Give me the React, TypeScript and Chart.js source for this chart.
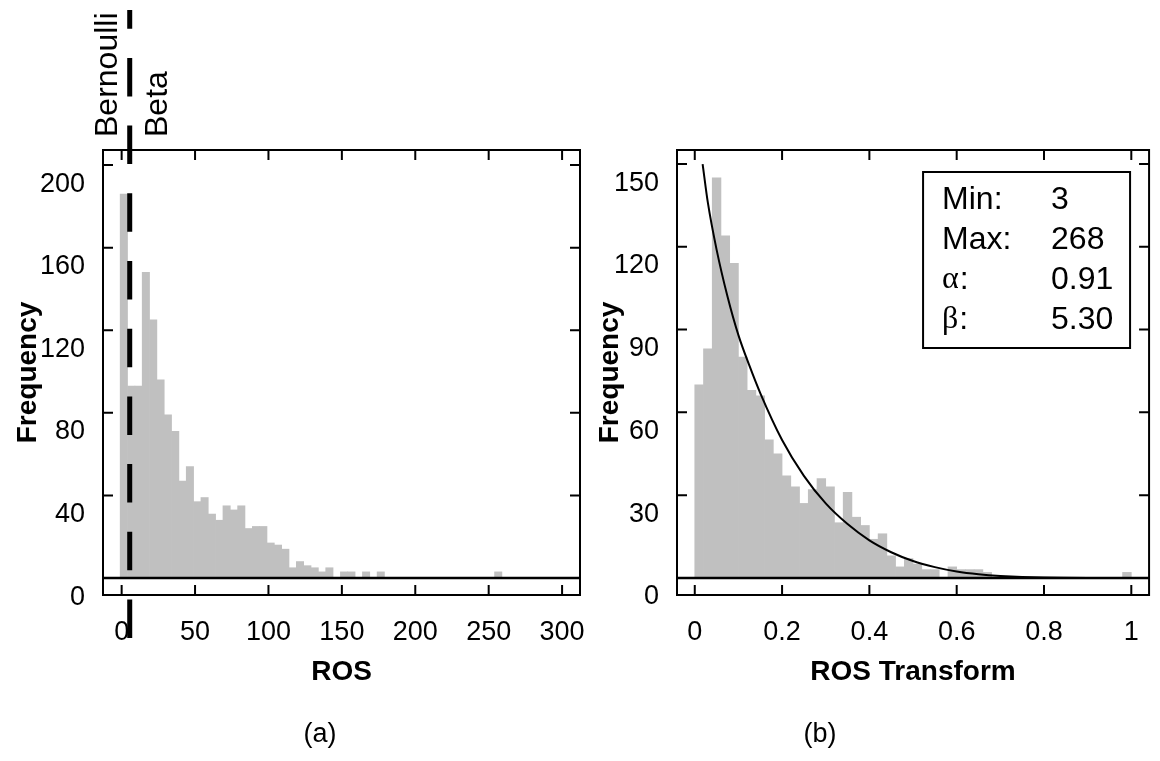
import React, { useEffect, useRef } from 'react';
import { Chart, registerables } from 'chart.js';

Chart.register(...registerables);

const FONT = '"Liberation Sans", Arial, Helvetica, sans-serif';
const SERIF = '"Liberation Serif", "Times New Roman", serif';
const BAR_GRAY = '#c0c0c0';

// ---------- Panel (a): ROS histogram ----------
const rosBinStart = -1;
const rosBinWidth = 5;
const rosCounts = [
  186, 93, 93, 148, 125, 96, 79, 71, 47, 54,
  37, 39, 31, 28, 35, 33, 35, 24, 25, 25,
  17, 16, 14, 5, 8, 6, 5, 3, 5, 0,
  3, 3, 0, 3, 0, 3, 0, 0, 0, 0,
  0, 0, 0, 0, 0, 0, 0, 0, 0, 0,
  0, 3,
];
const rosXTicks = [0, 50, 100, 150, 200, 250, 300];
const rosYTicks = [0, 40, 80, 120, 160, 200];
const rosXRange = [-12.7, 312.2];
const rosYRange = [-8.2, 207.3];
const splitValue = 5.5; // Bernoulli | Beta threshold

// ---------- Panel (b): ROS Transform histogram ----------
const trBinStart = 0;
const trBinWidth = 0.02;
const trCounts = [
  70, 83, 145, 124, 114, 80, 68, 66, 50, 45,
  37, 33, 27, 32, 36, 33, 20, 31, 22, 19,
  14, 16, 8, 4, 7, 5, 3, 3, 0, 4,
  3, 3, 3, 2, 0, 0, 0, 0, 0, 0,
  0, 0, 0, 0, 0, 0, 0, 0, 0, 2,
];
const trXTicks = [0, 0.2, 0.4, 0.6, 0.8, 1];
const trXLabels = ['0', '0.2', '0.4', '0.6', '0.8', '1'];
const trYTicks = [0, 30, 60, 90, 120, 150];
const trXRange = [-0.0407, 1.0407];
const trYRange = [-6.2, 155.1];

// fitted Beta density curve
const curveX = [0.018, 0.03, 0.05, 0.075, 0.1, 0.125, 0.15, 0.2, 0.25, 0.3, 0.35, 0.4, 0.45, 0.5, 0.55, 0.6, 0.65, 0.7, 0.8, 0.9, 1.0];
const curveY = [150, 136, 119, 102, 88, 77, 67, 50, 37, 27, 19.5, 13.6, 9.3, 6.1, 3.9, 2.3, 1.3, 0.7, 0.1, 0, 0];

const statLabels = ['Min:', 'Max:', 'α:', 'β:'];
const statValues = ['3', '268', '0.91', '5.30'];

const TICK_FONT = { family: FONT, size: 27 };
const TITLE_FONT = { family: FONT, size: 28, weight: 'bold' as const };

function framePlugin(id: string, xTicks: number[], yTicks: number[], extra: (chart: any) => void) {
  return {
    id,
    afterDatasetsDraw(chart: any) {
      const { ctx, chartArea: a, scales } = chart;
      const x = scales.x;
      const y = scales.y;
      ctx.save();
      ctx.strokeStyle = '#000';
      const y0 = y.getPixelForValue(0);
      ctx.lineWidth = 2.5;
      ctx.beginPath();
      ctx.moveTo(a.left, y0);
      ctx.lineTo(a.right, y0);
      ctx.stroke();
      ctx.lineWidth = 2;
      ctx.strokeRect(a.left, a.top, a.right - a.left, a.bottom - a.top);
      ctx.beginPath();
      const tl = 10;
      for (const v of yTicks) {
        const p = y.getPixelForValue(v);
        ctx.moveTo(a.left, p);
        ctx.lineTo(a.left + tl, p);
        ctx.moveTo(a.right, p);
        ctx.lineTo(a.right - tl, p);
      }
      for (const v of xTicks) {
        const p = x.getPixelForValue(v);
        ctx.moveTo(p, a.bottom);
        ctx.lineTo(p, a.bottom - tl);
        ctx.moveTo(p, a.top);
        ctx.lineTo(p, a.top + tl);
      }
      ctx.stroke();
      ctx.restore();
    },
    afterDraw(chart: any) {
      extra(chart);
    },
  };
}

function axes(opts: {
  xRange: number[]; yRange: number[]; xTicks: number[]; yTicks: number[];
  xLabels?: string[]; xTitle: string; yAxisWidth: number; yTitlePad: number;
}) {
  return {
    x: {
      type: 'linear' as const,
      min: opts.xRange[0],
      max: opts.xRange[1],
      offset: false,
      afterBuildTicks: (s: any) => { s.ticks = opts.xTicks.map((v) => ({ value: v })); },
      afterFit: (s: any) => { s.height = 166; },
      grid: { display: false, drawTicks: false, offset: false },
      border: { display: false },
      ticks: {
        font: TICK_FONT, color: '#000', padding: 21, autoSkip: false, maxRotation: 0, minRotation: 0,
        callback: (v: any, i: number) => (opts.xLabels ? opts.xLabels[i] : String(v)),
      },
      title: { display: true, text: opts.xTitle, font: TITLE_FONT, color: '#000', padding: { top: 0, bottom: 72.2 } },
    },
    y: {
      type: 'linear' as const,
      min: opts.yRange[0],
      max: opts.yRange[1],
      afterBuildTicks: (s: any) => { s.ticks = opts.yTicks.map((v) => ({ value: v })); },
      afterFit: (s: any) => { s.width = opts.yAxisWidth; },
      grid: { display: false, drawTicks: false },
      border: { display: false },
      ticks: {
        font: TICK_FONT, color: '#000', padding: 18, labelOffset: 19, autoSkip: false,
        callback: (v: any) => String(v),
      },
      title: { display: true, text: 'Frequency', font: TITLE_FONT, color: '#000', padding: { top: opts.yTitlePad, bottom: 0 } },
    },
  };
}

function configA(): any {
  const data = rosCounts.map((c, i) => ({ x: rosBinStart + rosBinWidth * (i + 0.5), y: c }));
  const extra = (chart: any) => {
    const { ctx, chartArea: a, scales } = chart;
    const px = scales.x.getPixelForValue(splitValue);
    ctx.save();
    ctx.strokeStyle = '#000';
    ctx.lineWidth = 5;
    ctx.setLineDash([38.5, 29.2]);
    ctx.beginPath();
    ctx.moveTo(px, a.bottom + 43);
    ctx.lineTo(px, a.top - 140);
    ctx.stroke();
    ctx.setLineDash([]);
    ctx.fillStyle = '#000';
    ctx.font = `32px ${FONT}`;
    ctx.textAlign = 'left';
    ctx.textBaseline = 'alphabetic';
    const drawV = (t: string, bx: number) => {
      ctx.save();
      ctx.translate(bx, a.top - 13);
      ctx.rotate(-Math.PI / 2);
      ctx.fillText(t, 0, 0);
      ctx.restore();
    };
    drawV('Bernoulli', px - 12.5);
    drawV('Beta', px + 37.5);
    ctx.font = `27px ${FONT}`;
    ctx.textAlign = 'center';
    ctx.textBaseline = 'middle';
    ctx.fillText('(a)', 320, 735);
    ctx.restore();
  };
  return {
    type: 'bar',
    data: {
      datasets: [{
        data, backgroundColor: BAR_GRAY, borderWidth: 0,
        barPercentage: 1, categoryPercentage: 1,
      }],
    },
    options: {
      responsive: false,
      devicePixelRatio: 1,
      animation: false,
      events: [],
      layout: { padding: { top: 150, right: 60, bottom: 0, left: 0 } },
      plugins: { legend: { display: false }, tooltip: { enabled: false }, title: { display: false } },
      scales: axes({
        xRange: rosXRange, yRange: rosYRange, xTicks: rosXTicks, yTicks: rosYTicks,
        xTitle: 'ROS', yAxisWidth: 103, yTitlePad: 11.2,
      }),
    },
    plugins: [framePlugin('frameA', rosXTicks, rosYTicks, extra)],
  };
}

function configB(): any {
  const data = trCounts.map((c, i) => ({ x: trBinStart + trBinWidth * (i + 0.5), y: c }));
  const curve = curveX.map((x, i) => ({ x, y: curveY[i] }));
  const extra = (chart: any) => {
    const { ctx, chartArea: a } = chart;
    ctx.save();
    const bx = a.right - 226;
    const by = a.top + 22;
    ctx.strokeStyle = '#000';
    ctx.lineWidth = 2;
    ctx.strokeRect(bx, by, 207, 176);
    ctx.fillStyle = '#000';
    ctx.textAlign = 'left';
    ctx.textBaseline = 'middle';
    statLabels.forEach((lab, i) => {
      const cy = by + 28 + i * 40;
      const lx = bx + 19;
      if (lab === 'α:' || lab === 'β:') {
        ctx.font = `32px ${SERIF}`;
        ctx.fillText(lab[0], lx, cy);
        const w = ctx.measureText(lab[0]).width;
        ctx.font = `32px ${FONT}`;
        ctx.fillText(':', lx + w + 1, cy);
      } else {
        ctx.font = `32px ${FONT}`;
        ctx.fillText(lab, lx, cy);
      }
      ctx.font = `32px ${FONT}`;
      ctx.fillText(statValues[i], bx + 128, cy);
    });
    ctx.font = `27px ${FONT}`;
    ctx.textAlign = 'center';
    ctx.fillText('(b)', 820 - 585, 735);
    ctx.restore();
  };
  return {
    type: 'bar',
    data: {
      datasets: [
        {
          type: 'line', data: curve, borderColor: '#000', borderWidth: 2, pointRadius: 0,
          cubicInterpolationMode: 'monotone', fill: false, order: 0,
        },
        {
          type: 'bar', data, backgroundColor: BAR_GRAY, borderWidth: 0,
          barPercentage: 1, categoryPercentage: 1, order: 1,
        },
      ],
    },
    options: {
      responsive: false,
      devicePixelRatio: 1,
      animation: false,
      events: [],
      layout: { padding: { top: 150, right: 5, bottom: 0, left: 0 } },
      plugins: { legend: { display: false }, tooltip: { enabled: false }, title: { display: false } },
      scales: axes({
        xRange: trXRange, yRange: trYRange, xTicks: trXTicks, yTicks: trYTicks, xLabels: trXLabels,
        xTitle: 'ROS Transform', yAxisWidth: 92, yTitlePad: 8.2,
      }),
    },
    plugins: [framePlugin('frameB', trXTicks, trYTicks, extra)],
  };
}

export default function App() {
  const refA = useRef<HTMLCanvasElement>(null);
  const refB = useRef<HTMLCanvasElement>(null);
  useEffect(() => {
    const a = new Chart(refA.current as HTMLCanvasElement, configA());
    const b = new Chart(refB.current as HTMLCanvasElement, configB());
    return () => {
      a.destroy();
      b.destroy();
    };
  }, []);
  return (
    <div style={{ position: 'absolute', left: 0, top: 0, width: 1160, height: 761, background: '#fff' }}>
      <canvas ref={refA} width={640} height={761}
        style={{ position: 'absolute', left: 0, top: 0, width: 640, height: 761 }} />
      <canvas ref={refB} width={575} height={761}
        style={{ position: 'absolute', left: 585, top: 0, width: 575, height: 761 }} />
    </div>
  );
}
